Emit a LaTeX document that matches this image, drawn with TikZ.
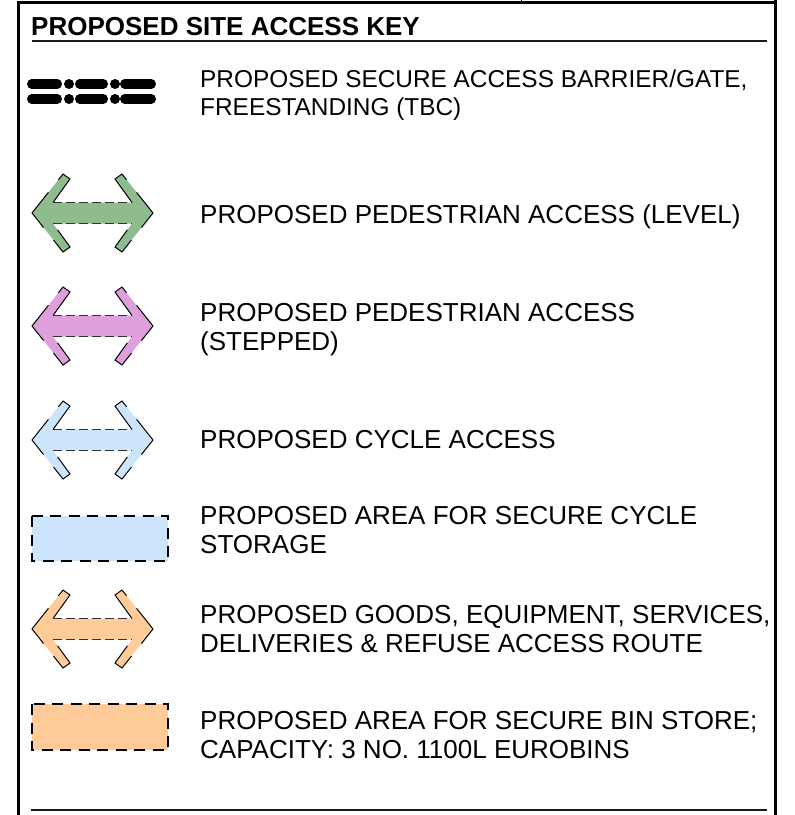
\documentclass[tikz,border=0pt]{standalone}
\usepackage{fontspec}
\setmainfont{Liberation Sans}
\usepackage{tikz}
\usetikzlibrary{positioning}
\definecolor{colLevel}{HTML}{8FBC8F}
\definecolor{colStepped}{HTML}{DDA0DD}
\definecolor{colCycle}{HTML}{CCE5FC}
\definecolor{colGoods}{HTML}{FFCC99}
\tikzset{
  pics/doubleArrow/.style={code={
    % relleno
    \fill[#1] (-60.5,0) -- (-29.5,-39) -- (-22.5,-34) -- (-39.5,-10.5) -- (39.5,-10.5) -- (22.5,-34) -- (29.5,-39) -- (60.5,0)
      -- (29.5,39) -- (22.5,34) -- (39.5,10.5) -- (-39.5,10.5) -- (-22.5,34) -- (-29.5,39) -- cycle;
    % puntas
    \draw[arrowEdge] (-39.5,-10.5) -- (-22.5,-34) -- (-29.5,-39) -- (-60.5,0) -- (-29.5,39) -- (-22.5,34) -- (-39.5,10.5);
    \draw[arrowEdge] (39.5,-10.5) -- (22.5,-34) -- (29.5,-39) -- (60.5,0) -- (29.5,39) -- (22.5,34) -- (39.5,10.5);
    % fuste
    \draw[shaftEdge] (-39.5,-10.5) -- (39.5,-10.5);
    \draw[shaftEdge] (-39.5,10.5) -- (39.5,10.5);
  }}
}

\begin{document}
\begin{tikzpicture}[
    x=1pt, y=-1pt,
    frameLine/.style={line width=3pt, draw=black},
    ruleLine/.style={line width=2.5pt, draw=black!90},
    arrowEdge/.style={line width=1pt, draw=black, dash pattern=on 45pt off 16pt, line join=miter},
    shaftEdge/.style={line width=1.4pt, draw=black!80, dash pattern=on 9pt off 4pt},
    storeBox/.style={line width=2.8pt, draw=black, dash pattern=on 11pt off 7.5pt},
    barrierBar/.style={line width=9.5pt, line cap=round, draw=black},
    keyTitle/.style={anchor=base west, inner sep=0pt, font=\fontsize{26}{30}\selectfont\bfseries},
    keyText/.style={anchor=base west, inner sep=0pt, align=left, font=\fontsize{26}{29}\selectfont}
  ]
    \useasboundingbox (0,0) rectangle (795,815);

    % Marco
    \draw[frameLine] (18,815) -- (18,2.5) -- (775,2.5);
    \draw[frameLine] (775,0) -- (775,815);
    \draw[line width=1pt] (521,0) -- (521,2.5);

    % Titulo
    \node[keyTitle] (txtTitle) at (31,35) {PROPOSED SITE ACCESS KEY};
    \draw[ruleLine] (32,41) -- (767,41);

    % Barrera (los nodos de dos lineas van por la base de la ultima linea)
    \foreach \yb in {84,99} {
      \draw[barrierBar] (31.75,\yb) -- (57.25,\yb);
      \draw[barrierBar] (79.75,\yb) -- (103.25,\yb);
      \draw[barrierBar] (124.75,\yb) -- (151.25,\yb);
      \fill (69,\yb) circle (5);
      \fill (115,\yb) circle (5);
    }
    \node[keyText, font=\fontsize{24.4}{28}\selectfont] (txtBarrier) at (200,115) {PROPOSED SECURE ACCESS BARRIER/GATE,\\FREESTANDING (TBC)};

    % Flechas de acceso
    \pic (arrLevel) at (92.5,213) {doubleArrow=colLevel};
    \node[keyText] (txtLevel) at (200,223) {PROPOSED PEDESTRIAN ACCESS (LEVEL)};

    \pic (arrStepped) at (92.5,326) {doubleArrow=colStepped};
    \node[keyText] (txtStepped) at (200,350) {PROPOSED PEDESTRIAN ACCESS\\(STEPPED)};

    \pic (arrCycle) at (92.5,440) {doubleArrow=colCycle};
    \node[keyText] (txtCycle) at (200,448) {PROPOSED CYCLE ACCESS};

    % Almacen bicicletas
    \draw[storeBox, fill=colCycle] (32,516) rectangle (168,561);
    \node[keyText] (txtCycleStore) at (200,553) {PROPOSED AREA FOR SECURE CYCLE\\STORAGE};

    \pic (arrGoods) at (92.5,629) {doubleArrow=colGoods};
    \node[keyText] (txtGoods) at (200,652) {PROPOSED GOODS, EQUIPMENT, SERVICES,\\DELIVERIES \& REFUSE ACCESS ROUTE};

    % Almacen de basura
    \draw[storeBox, fill=colGoods] (32,704) rectangle (168,750);
    \node[keyText] (txtBinStore) at (200,758) {PROPOSED AREA FOR SECURE BIN STORE;\\CAPACITY: 3 NO. 1100L EUROBINS};

    \draw[ruleLine] (31,810) -- (767,810);
\end{tikzpicture}
\end{document}
